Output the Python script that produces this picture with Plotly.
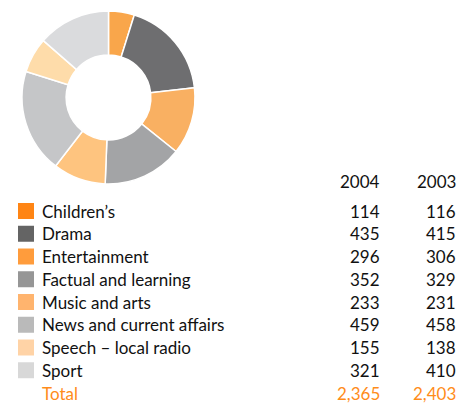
import plotly.graph_objects as go

categories = ["Children’s", "Drama", "Entertainment", "Factual and learning",
              "Music and arts", "News and current affairs", "Speech – local radio", "Sport"]
values_2004 = [114, 435, 296, 352, 233, 459, 155, 321]
values_2003 = [116, 415, 306, 329, 231, 458, 138, 410]
years = ["2004", "2003"]
total_label = "Total"

slice_colors = ["#f9a64b", "#6e6e70", "#f9b062", "#a3a4a6", "#fec47f", "#c5c6c8", "#fedcaa", "#dadbdd"]
key_colors = ["#ff8514", "#646464", "#ff9c3c", "#969696", "#ffb46e", "#bababa", "#ffd3a6", "#d8d8d8"]

W, H = 472, 407
FONT = "Lato"
TXT = "#111111"
ORANGE = "#ff8c1a"

fig = go.Figure()
fig.add_trace(go.Pie(
    labels=categories, values=values_2004, sort=False, direction="clockwise", rotation=0,
    hole=0.49, marker=dict(colors=slice_colors, line=dict(color="white", width=1.5)),
    textinfo="none", hoverinfo="label+value", showlegend=False,
    domain=dict(x=[22 / W, 195 / W], y=[1 - 184 / H, 1 - 11 / H]),
))

annotations = []
shapes = []

def txt(x, y, s, anchor, color=TXT):
    annotations.append(dict(x=x, y=y, xref="x", yref="y", text=s, showarrow=False,
                            xanchor=anchor, yanchor="middle",
                            font=dict(family=FONT, size=17, color=color)))

col_x = [382, 458]
header_y = 181
for yr, cx in zip(years, col_x):
    txt(cx, header_y, yr, "right")

row0 = 211
step = 22.75
for i, (c, a, b) in enumerate(zip(categories, values_2004, values_2003)):
    y = row0 + i * step
    shapes.append(dict(type="rect", xref="x", yref="y", x0=18, x1=34, y0=y - 8, y1=y + 8,
                       fillcolor=key_colors[i], line=dict(width=0)))
    txt(40, y, c, "left")
    txt(col_x[0], y, f"{a:,}", "right")
    txt(col_x[1], y, f"{b:,}", "right")

y = row0 + len(categories) * step
txt(40, y, total_label, "left", ORANGE)
txt(col_x[0], y, f"{sum(values_2004):,}", "right", ORANGE)
txt(col_x[1], y, f"{sum(values_2003):,}", "right", ORANGE)

fig.update_layout(
    width=W, height=H, margin=dict(l=0, r=0, t=0, b=0),
    paper_bgcolor="white", plot_bgcolor="rgba(0,0,0,0)",
    xaxis=dict(range=[0, W], visible=False, fixedrange=True),
    yaxis=dict(range=[H, 0], visible=False, fixedrange=True),
    annotations=annotations, shapes=shapes,
)
fig.write_html("out.html", config={"displayModeBar": False},
               post_script="document.body.style.margin='0';document.body.style.overflow='hidden';")
